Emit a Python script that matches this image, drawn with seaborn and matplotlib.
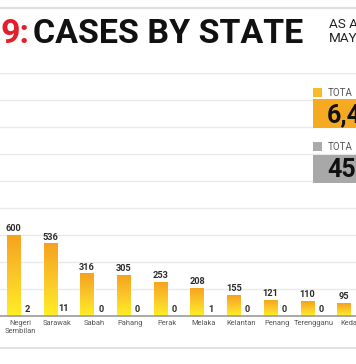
#### #### #### #### #### #### #### #### #### #### #### #### #### #### #### ####
### Import functions

import numpy as np
import matplotlib
matplotlib.use('Agg')
import matplotlib.pyplot as plt
from matplotlib.colors import LinearSegmentedColormap
from matplotlib.patches import Rectangle
from matplotlib.lines import Line2D
import pandas as pd
import seaborn as sns


#### #### #### #### #### #### #### #### #### #### #### #### #### #### #### ####
#### DATA

states = ['Negeri\nSembilan', 'Sarawak', 'Sabah', 'Pahang', 'Perak',
          'Melaka', 'Kelantan', 'Penang', 'Terengganu', 'Kedah']
cases = [600, 536, 316, 305, 253, 208, 155, 121, 110, 95]
other = [2, 11, 0, 0, 0, 1, 0, 0, 0, 0]

series_names = ['Cases', 'Other']
grid_ticks = [0, 200, 400, 600, 800, 1000, 1200, 1400, 1600, 1800]

df = pd.DataFrame({
    'state': states * 2,
    'series': [series_names[0]] * len(states) + [series_names[1]] * len(states),
    'value': cases + other,
})


#### #### #### #### #### #### #### #### #### #### #### #### #### #### #### ####
#### PLOT

W, H = 356, 364
sns.set_style('white')
plt.rcParams['font.family'] = ['Roboto', 'DejaVu Sans']

yellow = '#FFEF24'
orange = '#F5A21E'
grey = '#ADADAD'
grad = LinearSegmentedColormap.from_list('yo', [yellow, '#FBC62A', orange])

fg = plt.figure(figsize=(W / 100, H / 100), dpi=100)

# axes: baseline at y=316px, top gridline at y=72.5px
ax = fg.add_axes([0, (H - 316) / H, 1, (316 - 72.5) / H])

sns.barplot(data=df, x='state', y='value', hue='series', hue_order=series_names,
            palette={series_names[0]: orange, series_names[1]: grey},
            width=0.74, legend=False, ax=ax)

# gradient fill on the case bars
for p in ax.containers[0]:
    x0, y0 = p.get_xy()
    w, h = p.get_width(), p.get_height()
    im = ax.imshow(np.linspace(0, 1, 256).reshape(-1, 1), cmap=grad, origin='lower',
                   extent=[x0, x0 + w, y0, y0 + h], aspect='auto', zorder=p.get_zorder() + 0.1)
    im.set_clip_path(p)

lab_kw = dict(fontsize=6.6, fontweight='bold', color='#2b2b2b', padding=1.2)
ax.bar_label(ax.containers[0], **lab_kw)
ax.bar_label(ax.containers[1], **lab_kw)

ax.set_ylim(0, grid_ticks[-1])
step = 36.7
ax.set_xlim(-20.5 / step, (W - 20.5) / step)

ax.set_yticks(grid_ticks)
ax.set_yticklabels([])
ax.yaxis.grid(True, color='#e9e9e9', linewidth=1)
ax.set_axisbelow(True)
ax.tick_params(axis='both', length=0)
ax.tick_params(axis='x', pad=3, labelsize=5.4, labelcolor='#555555')
ax.set_xlabel('')
ax.set_ylabel('')
for s in ax.spines.values():
    s.set_visible(False)
ax.axhline(0, color='#9a9a9a', linewidth=1.2, clip_on=False, zorder=5)


#### #### #### #### #### #### #### #### #### #### #### #### #### #### #### ####
#### Header and totals

def fx(px):
    return px / W


def fy(px):
    return (H - px) / H


fg.add_artist(Line2D([0, 1], [fy(8), fy(8)], color='#dddddd', linewidth=1.6))
fg.add_artist(Line2D([0, 1], [fy(348), fy(348)], color='#dddddd', linewidth=1.2))

fg.text(fx(0), fy(43), '9:', color='#E3202A', fontsize=24.5, fontweight='bold', va='baseline')
fg.text(fx(33), fy(43), 'CASES BY STATE', color='#111111', fontsize=24.5, fontweight='bold',
        va='baseline')
fg.text(fx(329), fy(28.5), 'AS A', color='#222222', fontsize=9.7, va='baseline')
fg.text(fx(329), fy(41.5), 'MAY', color='#222222', fontsize=9.7, va='baseline')

# totals boxes
fg.add_artist(Rectangle((fx(313), fy(97)), 9 / W, 9 / H, color='#F8B92A', lw=0))
fg.text(fx(328), fy(96), 'TOTA', color='#555555', fontsize=7, va='baseline')
fg.add_artist(Rectangle((fx(313), fy(127.5)), 43 / W, 28.5 / H, color='#F6AA22', lw=0))
fg.text(fx(327), fy(122.5), '6,4', color='#111111', fontsize=18, fontweight='bold', va='baseline')

fg.add_artist(Rectangle((fx(313), fy(151)), 9 / W, 9 / H, color='#AAAAAA', lw=0))
fg.text(fx(328), fy(150), 'TOTA', color='#555555', fontsize=7, va='baseline')
fg.add_artist(Rectangle((fx(313), fy(183)), 43 / W, 28 / H, color='#A8A8A8', lw=0))
fg.text(fx(327), fy(177), '45', color='#111111', fontsize=18, fontweight='bold', va='baseline')

plt.savefig('out.png', dpi=100)
